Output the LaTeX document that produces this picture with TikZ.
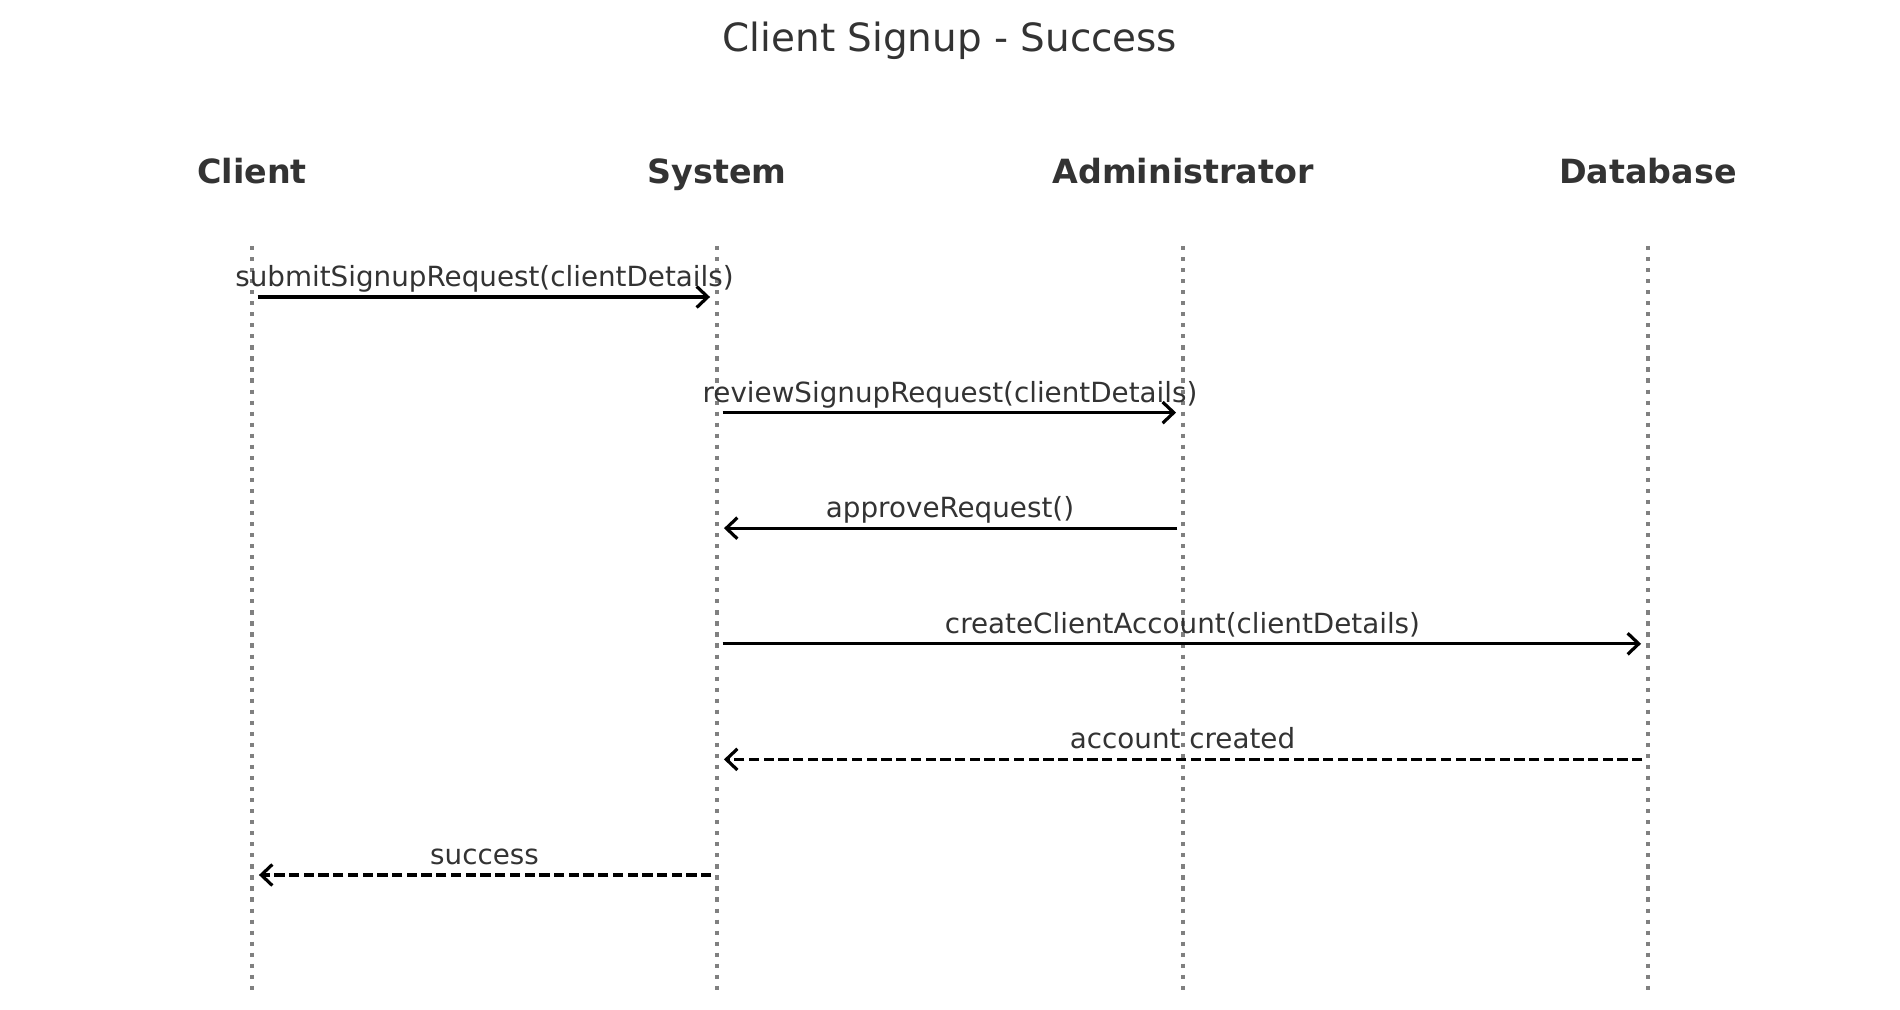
\documentclass[tikz,border=0pt]{standalone}
\usepackage{fontspec}
\setmainfont{DejaVu Sans}
\usepackage{xcolor}
\usetikzlibrary{arrows.meta}

\definecolor{txtgray}{HTML}{333333}
\definecolor{lifegray}{HTML}{808080}

\tikzset{
    lifeline/.style={draw=lifegray, line width=1.5pt, dash pattern=on 1.5pt off 2.475pt},
    header/.style={anchor=base, text=txtgray, font=\fontsize{12}{14}\selectfont\bfseries},
    msg/.style={-{Straight Barb[length=4pt,width=7.6pt]}, line width=1.15pt, shorten <=2pt, shorten >=2.5pt},
    reply/.style={msg, dash pattern=on 3.7pt off 1.6pt},
    msglabel/.style={anchor=base, yshift=3.8pt, inner sep=0pt, text=txtgray, font=\fontsize{10}{12}\selectfont}
}

\begin{document}
\begin{tikzpicture}[x=0.36pt, y=-0.36pt]
        \useasboundingbox (0,0) rectangle (1900,1010);

        % Title
        \node[anchor=base, text=txtgray, font=\fontsize{14}{16}\selectfont] (title) at (950,52) {Client Signup - Success};

        % Participants and lifelines
        \foreach \x/\name/\label in {252/client/Client, 717/system/System, 1183/admin/Administrator, 1648/db/Database} {
            \node[header] (\name) at (\x,184) {\label};
            \coordinate (\name-top) at (\x,246);
            \coordinate (\name-bot) at (\x,994);
            \draw[lifeline] (\name-top) -- (\name-bot);
        }

        % Message rows
        \foreach \i in {1,...,6} {
            \pgfmathsetmacro{\pos}{297 + (\i-1)*115.6}
            \coordinate (m\i) at (0,\pos);
        }

        % Messages
        \draw[msg] (client-top |- m1) -- node[msglabel] {submitSignupRequest(clientDetails)} (system-top |- m1);
        \draw[msg] (system-top |- m2) -- node[msglabel] {reviewSignupRequest(clientDetails)} (admin-top |- m2);
        \draw[msg] (admin-top |- m3) -- node[msglabel] {approveRequest()} (system-top |- m3);
        \draw[msg] (system-top |- m4) -- node[msglabel] {createClientAccount(clientDetails)} (db-top |- m4);

        % Replies
        \draw[reply] (db-top |- m5) -- node[msglabel] {account created} (system-top |- m5);
        \draw[reply] (system-top |- m6) -- node[msglabel] {success} (client-top |- m6);
    \end{tikzpicture}
\end{document}
